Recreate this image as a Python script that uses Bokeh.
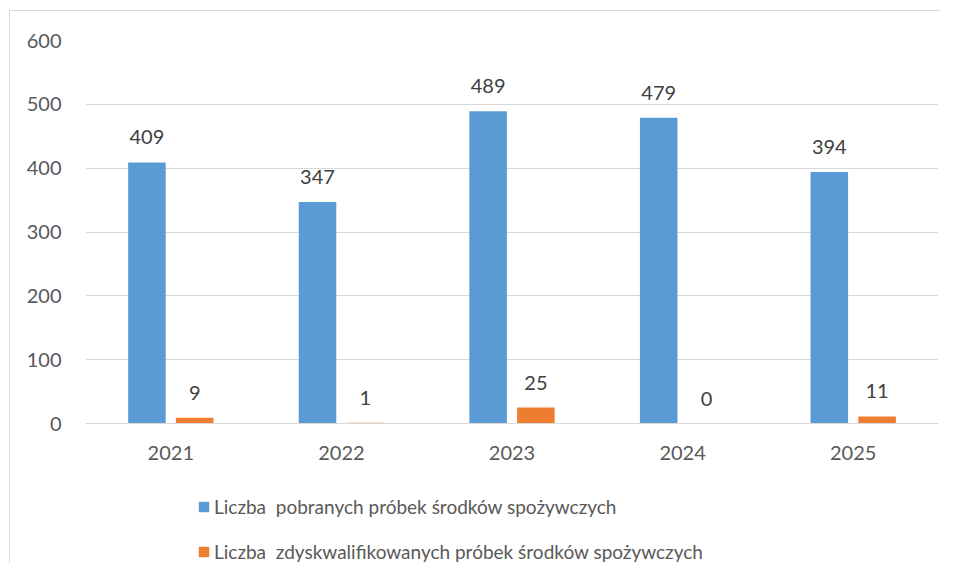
from bokeh.plotting import figure
from bokeh.layouts import column
from bokeh.models import ColumnDataSource, Legend, LegendItem, FactorRange
from bokeh.transform import dodge
from bokeh.embed import file_html
from bokeh.resources import INLINE

years = ["2021", "2022", "2023", "2024", "2025"]
pobrane = [409, 347, 489, 479, 394]
zdyskwalifikowane = [9, 1, 25, 0, 11]
series_names = [
    "Liczba  pobranych próbek środków spożywczych",
    "Liczba  zdyskwalifikowanych próbek środków spożywczych",
]
y_ticks = [0, 100, 200, 300, 400, 500, 600]

BLUE = "#5B9BD5"
ORANGE = "#ED7D31"
FONT = "Lato"
FS = "20px"

src = ColumnDataSource(dict(
    year=years, a=pobrane, b=zdyskwalifikowane,
    at=[str(v) for v in pobrane], bt=[str(v) for v in zdyskwalifikowane],
))

p = figure(
    width=930, height=459, x_range=FactorRange(*years, range_padding=0),
    y_range=(0, 600), output_backend="svg", toolbar_location=None,
    min_border_left=75, min_border_right=2, min_border_top=29, min_border_bottom=47,
)
p.outline_line_color = None

p.vbar(x=dodge("year", -0.14, range=p.x_range), top="a", width=0.22, source=src,
       fill_color=BLUE, line_color=None)
p.vbar(x=dodge("year", 0.14, range=p.x_range), top="b", width=0.22, source=src,
       fill_color=ORANGE, line_color=None)

p.text(x=dodge("year", -0.14, range=p.x_range), y="a", text="at", source=src,
       text_align="center", text_baseline="middle", y_offset=-25,
       text_font={"value": FONT}, text_font_size=FS, text_color="#404040")
p.text(x=dodge("year", 0.14, range=p.x_range), y="b", text="bt", source=src,
       text_align="center", text_baseline="middle", y_offset=-25,
       text_font={"value": FONT}, text_font_size=FS, text_color="#404040")

p.yaxis.ticker = y_ticks
p.xgrid.grid_line_color = None
p.ygrid.grid_line_color = "#d9d9d9"
p.ygrid.grid_line_width = 1

for ax in (p.xaxis, p.yaxis):
    ax.major_tick_line_color = None
    ax.minor_tick_line_color = None
    ax.major_label_text_font = FONT
    ax.major_label_text_font_size = FS
    ax.major_label_text_color = "#595959"
p.yaxis.axis_line_color = None
p.xaxis.axis_line_color = "#d9d9d9"
p.yaxis.major_label_standoff = 18
p.xaxis.major_label_standoff = 16

# legend strip below the chart
lg = figure(
    width=930, height=93, x_range=(0, 1), y_range=(0, 1),
    x_axis_type=None, y_axis_type=None, output_backend="svg", toolbar_location=None,
    min_border=0,
)
lg.outline_line_color = None
lg.xgrid.visible = False
lg.ygrid.visible = False
# zero-height swatch renderers (only used for the legend glyphs)
s1 = lg.vbar(x=[0], top=[0], width=0.1, fill_color=BLUE, line_color=None)
s2 = lg.vbar(x=[0], top=[0], width=0.1, fill_color=ORANGE, line_color=None)

legend = Legend(
    items=[LegendItem(label=series_names[0], renderers=[s1]),
           LegendItem(label=series_names[1], renderers=[s2])],
    location=(112, -2), orientation="vertical",
    glyph_width=13, glyph_height=13, label_standoff=4, spacing=18, label_height=27,
    label_text_font=FONT, label_text_font_size="19px", label_text_color="#595959",
    border_line_color=None, background_fill_alpha=0, padding=0, margin=0,
)
lg.add_layout(legend, "center")

layout = column(p, lg, spacing=0, margin=(10, 0, 0, 9),
                styles={"border-left": "1px solid #d9d9d9", "border-top": "1px solid #d9d9d9"})

open("out.html", "w").write(file_html(layout, INLINE))
